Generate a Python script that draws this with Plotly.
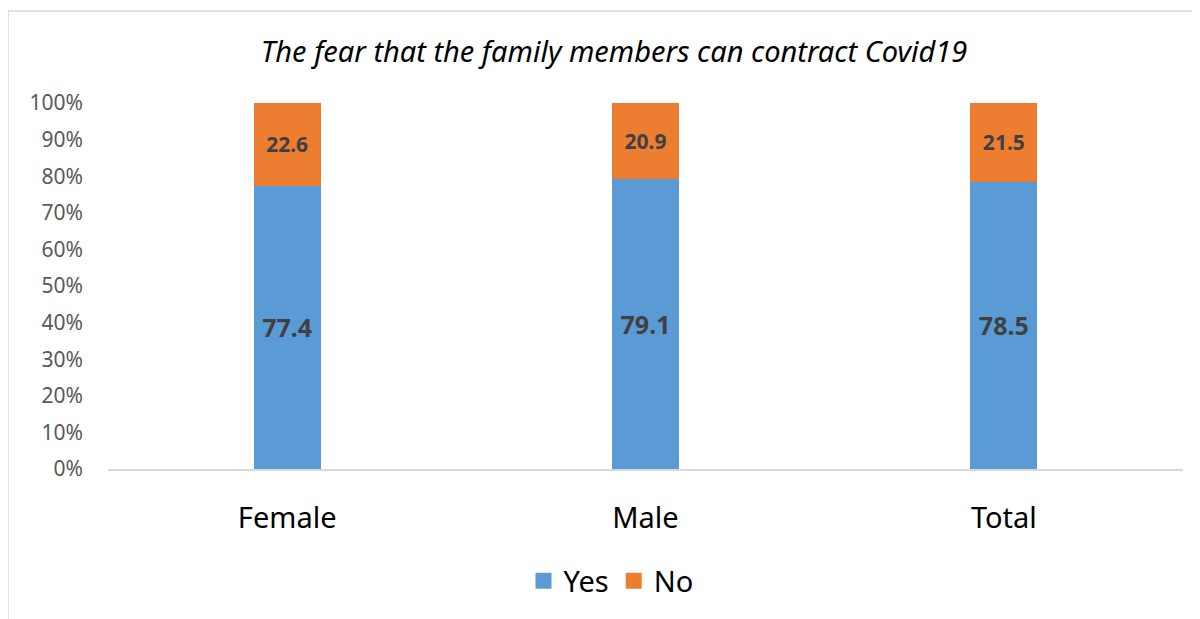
import plotly.graph_objects as go

categories = ["Female", "Male", "Total"]
yes_values = [77.4, 79.1, 78.5]
no_values = [22.6, 20.9, 21.5]
y_tick_vals = [0, 10, 20, 30, 40, 50, 60, 70, 80, 90, 100]
y_tick_text = [f"{v}%" for v in y_tick_vals]

FONT = "Noto Sans"
BLUE = "#5B9BD5"
ORANGE = "#ED7D31"

# page body has an 8px margin, so the figure is drawn at (8, 8)
W, H = 1192, 611
ML, MR, MT, MB = 100, 17, 95, 150
PW = W - ML - MR
PH = H - MT - MB

fig = go.Figure()
fig.add_trace(go.Bar(
    x=categories, y=yes_values, name="Yes", showlegend=False,
    marker=dict(color=BLUE, line=dict(width=0)),
    text=[f"<b>{v}</b>" for v in yes_values], textposition="inside",
    insidetextanchor="middle",
    textfont=dict(family=FONT, size=25, color="#404040"), width=0.187,
))
fig.add_trace(go.Bar(
    x=categories, y=no_values, name="No", showlegend=False,
    marker=dict(color=ORANGE, line=dict(width=0)),
    text=[f"<b>{v}</b>" for v in no_values], textposition="inside",
    insidetextanchor="middle",
    textfont=dict(family=FONT, size=21, color="#404040"), width=0.187,
))
# legend entries
for name, col in (("Yes", BLUE), ("No", ORANGE)):
    fig.add_trace(go.Scatter(
        x=[None], y=[None], mode="markers", name=name,
        marker=dict(symbol="square", size=20, color=col),
    ))

fig.update_layout(
    barmode="stack",
    width=W, height=H,
    margin=dict(l=ML, r=MR, t=MT, b=MB),
    paper_bgcolor="white", plot_bgcolor="white",
    font=dict(family=FONT),
    uniformtext=dict(mode=False),
    title=dict(
        text="<i>The fear that the family members can contract Covid19</i>",
        x=(614 - 8) / W, xanchor="center", y=1 - (52 - 8) / H, yanchor="middle",
        font=dict(family=FONT, size=29, color="#000000"),
    ),
    xaxis=dict(
        showline=True, linecolor="#D9D9D9", linewidth=2,
        ticks="", tickfont=dict(family=FONT, size=29, color="#000000"),
        showgrid=False, ticklabelstandoff=22,
    ),
    yaxis=dict(
        range=[0, 100], tickvals=y_tick_vals, ticktext=y_tick_text,
        showgrid=False, zeroline=False, showline=False,
        tickfont=dict(family=FONT, size=21, color="#595959"),
        ticklabelstandoff=24,
    ),
    legend=dict(
        orientation="h", x=(611 - 108) / PW, xanchor="center",
        y=(469 - 581) / PH, yanchor="middle",
        font=dict(family=FONT, size=29, color="#000000"),
        itemwidth=30, traceorder="normal",
    ),
    showlegend=True,
)

fig.add_shape(
    type="rect", xref="paper", yref="paper",
    x0=(8 - 108) / PW, x1=1.5, y0=-1.0, y1=(469 - 11) / PH,
    line=dict(color="#D9D9D9", width=1.5), fillcolor="rgba(0,0,0,0)", layer="below",
)

fig.write_html("out.html")
